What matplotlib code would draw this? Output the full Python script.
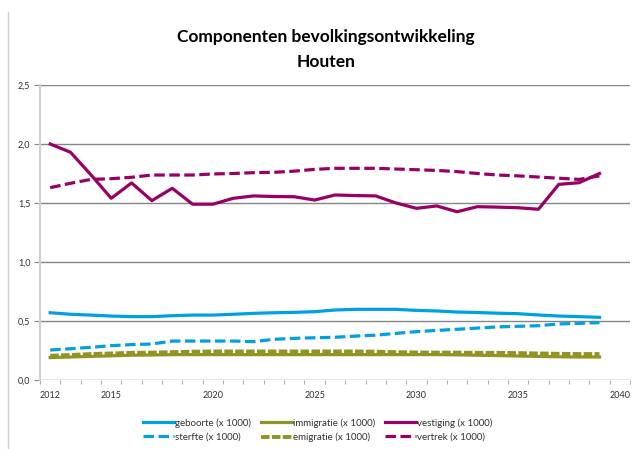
import matplotlib
matplotlib.use("Agg")
import matplotlib.pyplot as plt
from matplotlib.lines import Line2D
from matplotlib.ticker import FixedLocator, FuncFormatter

# jaren 2012 t/m 2039 (as loopt door tot 2040)
years = list(range(2012, 2040))

geboorte = [0.570, 0.557, 0.550, 0.542, 0.537, 0.537, 0.545, 0.550, 0.550, 0.557,
            0.565, 0.570, 0.573, 0.579, 0.593, 0.599, 0.599, 0.599, 0.590, 0.585,
            0.576, 0.572, 0.566, 0.562, 0.551, 0.542, 0.537, 0.531]
sterfte = [0.254, 0.265, 0.277, 0.291, 0.300, 0.305, 0.330, 0.330, 0.330, 0.330,
           0.325, 0.345, 0.353, 0.358, 0.362, 0.372, 0.380, 0.395, 0.410, 0.420,
           0.430, 0.440, 0.450, 0.455, 0.460, 0.475, 0.480, 0.486]
immigratie = [0.190, 0.195, 0.200, 0.205, 0.210, 0.212, 0.215, 0.215, 0.215, 0.215,
              0.215, 0.215, 0.215, 0.215, 0.215, 0.215, 0.215, 0.215, 0.215, 0.215,
              0.213, 0.210, 0.207, 0.203, 0.200, 0.197, 0.195, 0.195]
emigratie = [0.205, 0.212, 0.220, 0.225, 0.230, 0.232, 0.236, 0.240, 0.242, 0.242,
             0.242, 0.242, 0.242, 0.242, 0.242, 0.242, 0.240, 0.236, 0.233, 0.232,
             0.232, 0.230, 0.230, 0.228, 0.225, 0.222, 0.220, 0.220]
vestiging = [2.00, 1.93, 1.74, 1.54, 1.67, 1.52, 1.625, 1.49, 1.49, 1.54,
             1.56, 1.555, 1.553, 1.525, 1.568, 1.563, 1.56, 1.50, 1.455, 1.475,
             1.426, 1.469, 1.465, 1.46, 1.447, 1.658, 1.672, 1.75]
vertrek = [1.63, 1.667, 1.70, 1.706, 1.718, 1.737, 1.737, 1.737, 1.746, 1.75,
           1.757, 1.76, 1.77, 1.785, 1.794, 1.794, 1.794, 1.788, 1.782, 1.776,
           1.766, 1.75, 1.737, 1.73, 1.72, 1.71, 1.70, 1.73]

xlabels = [2012, 2015, 2020, 2025, 2030, 2035, 2040]

blue = "#00a0e2"
olive = "#8f9422"
purple = "#990066"

fig = plt.figure(figsize=(6.36, 4.49), dpi=100)
ax = fig.add_axes([40/636, 1-380/449, 590/636, 295/449])

lw = 2.3
dash = (3.3, 1.4)
ax.plot(years, geboorte, color=blue, lw=lw, label="geboorte (x 1000)")
ax.plot(years, sterfte, color=blue, lw=lw, ls=(0, dash), label="sterfte (x 1000)")
ax.plot(years, immigratie, color=olive, lw=lw, label="immigratie (x 1000)")
ax.plot(years, emigratie, color=olive, lw=2.8, ls=(0, (2.2, 0.6)), label="emigratie (x 1000)")
ax.plot(years, vestiging, color=purple, lw=lw, label="vestiging (x 1000)")
ax.plot(years, vertrek, color=purple, lw=lw, ls=(0, dash), label="vertrek (x 1000)")

ax.set_xlim(2011.5, 2040.5)
ax.set_ylim(0, 2.5)

ax.set_yticks([0, 0.5, 1.0, 1.5, 2.0, 2.5])
ax.yaxis.set_major_formatter(FuncFormatter(lambda v, p: f"{v:.1f}".replace(".", ",")))
ax.set_xticks(xlabels)
ax.set_xticks([2011.5 + k for k in range(30)], minor=True)

ax.grid(axis="y", color="#868686", lw=1)
ax.set_axisbelow(True)
for s in ["top", "right", "bottom"]:
    ax.spines[s].set_visible(False)
ax.spines["left"].set_color("#d0d0d0")
ax.spines["left"].set_linewidth(1.5)

ax.tick_params(axis="y", length=4, color="#868686", labelsize=6.5, labelcolor="#303030", pad=3)
ax.tick_params(axis="x", which="major", length=0, labelsize=6.5, labelcolor="#303030", pad=8)
ax.tick_params(axis="x", which="minor", length=3, color="#b0b0b0", width=0.8)

for t in ax.get_xticklabels() + ax.get_yticklabels():
    t.set_family("Lato")

fig.text(0.513, 1-37/449, "Componenten bevolkingsontwikkeling", ha="center", va="center",
         fontsize=12.5, fontweight="bold", family="Lato")
fig.text(0.513, 1-62/449, "Houten", ha="center", va="center",
         fontsize=12.5, fontweight="bold", family="Lato")

h, l = ax.get_legend_handles_labels()
order = [0, 1, 2, 3, 4, 5]
leg = fig.legend([h[i] for i in order], [l[i] for i in order], ncol=3,
                 loc="center", bbox_to_anchor=(0.5, 1-430/449), frameon=False,
                 prop={"family": "Lato", "size": 7}, handlelength=3.2,
                 handletextpad=0.1, columnspacing=1.0, labelspacing=0.5)
for t in leg.get_texts():
    t.set_color("#303030")

# rand van het diagramgebied links
fig.add_artist(Line2D([8/636, 8/636], [0, 1-12/449], transform=fig.transFigure,
                      color="#d0d0d0", lw=1))

fig.savefig("out.png", dpi=100)
